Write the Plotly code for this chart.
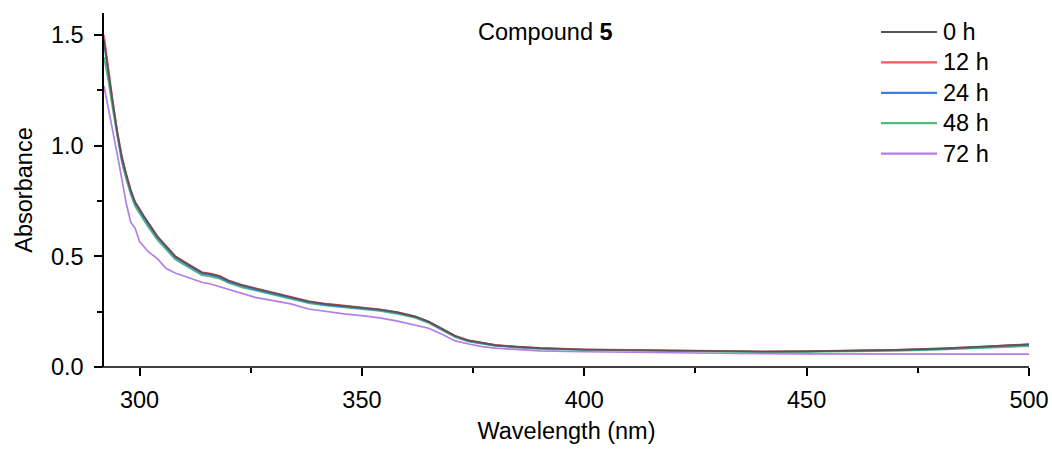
import plotly.graph_objects as go

wavelength = [292, 293, 294, 295, 296, 297, 298, 299, 300, 301, 302, 304, 306, 308, 310,
              312, 314, 316, 318, 320, 323, 326, 330, 334, 338, 342, 346, 350, 354, 358,
              362, 365, 368, 371, 374, 377, 380, 385, 390, 400, 410, 420, 430, 440, 450,
              460, 470, 480, 490, 500]

abs_0h = [1.48, 1.33, 1.19, 1.06, 0.95, 0.87, 0.80, 0.745, 0.71, 0.68, 0.65, 0.59, 0.545, 0.50, 0.475,
          0.45, 0.427, 0.42, 0.41, 0.39, 0.37, 0.355, 0.335, 0.315, 0.296, 0.284, 0.276, 0.268, 0.26, 0.247,
          0.228, 0.205, 0.172, 0.14, 0.12, 0.108, 0.099, 0.091, 0.085, 0.079, 0.077, 0.074, 0.071, 0.070, 0.071,
          0.073, 0.077, 0.083, 0.091, 0.102]
abs_12h = [1.50, 1.34, 1.20, 1.065, 0.955, 0.872, 0.802, 0.747, 0.712, 0.682, 0.652, 0.592, 0.547, 0.502, 0.477,
           0.452, 0.429, 0.422, 0.412, 0.392, 0.372, 0.357, 0.337, 0.317, 0.298, 0.286, 0.277, 0.269, 0.261, 0.248,
           0.229, 0.206, 0.173, 0.141, 0.121, 0.109, 0.100, 0.092, 0.086, 0.080, 0.078, 0.075, 0.072, 0.071, 0.072,
           0.074, 0.078, 0.084, 0.092, 0.104]
abs_24h = [1.46, 1.32, 1.18, 1.05, 0.94, 0.862, 0.793, 0.738, 0.703, 0.673, 0.643, 0.584, 0.539, 0.495, 0.470,
           0.445, 0.422, 0.415, 0.405, 0.386, 0.366, 0.351, 0.331, 0.311, 0.293, 0.281, 0.273, 0.265, 0.257, 0.244,
           0.226, 0.203, 0.170, 0.138, 0.118, 0.106, 0.097, 0.090, 0.084, 0.078, 0.076, 0.073, 0.070, 0.069, 0.070,
           0.072, 0.076, 0.081, 0.089, 0.100]
abs_48h = [1.40, 1.29, 1.16, 1.035, 0.925, 0.848, 0.780, 0.726, 0.692, 0.662, 0.632, 0.574, 0.530, 0.487, 0.462,
           0.438, 0.415, 0.408, 0.399, 0.380, 0.360, 0.346, 0.326, 0.307, 0.289, 0.277, 0.269, 0.261, 0.253, 0.240,
           0.222, 0.199, 0.166, 0.135, 0.115, 0.104, 0.095, 0.088, 0.082, 0.076, 0.074, 0.071, 0.068, 0.067, 0.068,
           0.070, 0.073, 0.078, 0.085, 0.094]
abs_72h = [1.27, 1.17, 1.07, 0.96, 0.85, 0.74, 0.655, 0.627, 0.567, 0.545, 0.52, 0.49, 0.445, 0.425, 0.41,
           0.395, 0.383, 0.375, 0.363, 0.35, 0.33, 0.315, 0.30, 0.285, 0.262, 0.25, 0.24, 0.232, 0.222, 0.207,
           0.19, 0.175, 0.148, 0.118, 0.104, 0.092, 0.085, 0.078, 0.073, 0.069, 0.066, 0.064, 0.062, 0.060, 0.059,
           0.058, 0.058, 0.058, 0.058, 0.058]

series_names = ["0 h", "12 h", "24 h", "48 h", "72 h"]
series_values = [abs_0h, abs_12h, abs_24h, abs_48h, abs_72h]
colors = ["#555555", "#f05a5a", "#3a7de0", "#55b87c", "#b27ee8"]

x_ticks = [300, 350, 400, 450, 500]
y_ticks = [0.0, 0.5, 1.0, 1.5]
y_tick_labels = ["0.0", "0.5", "1.0", "1.5"]

FONT = "Liberation Sans, Arial, sans-serif"
FS = 23.5

fig = go.Figure()
# draw in reverse so 0 h is on top
for name, vals, col in reversed(list(zip(series_names, series_values, colors))):
    fig.add_trace(go.Scatter(x=wavelength, y=vals, mode="lines", name=name,
                             line=dict(color=col, width=1.7), showlegend=False))

W, H = 1052, 450
ml, mr, mt, mb = 104, 23, 13, 83
pw = W - ml - mr
ph = H - mt - mb

fig.update_layout(
    width=W, height=H,
    margin=dict(l=ml, r=mr, t=mt, b=mb, autoexpand=False),
    plot_bgcolor="white", paper_bgcolor="white",
    font=dict(family=FONT, size=FS, color="#000000"),
    showlegend=False,
)
fig.update_xaxes(
    range=[292, 500], tickvals=x_ticks, ticktext=[str(v) for v in x_ticks],
    showgrid=False, zeroline=False, showline=False, automargin=False,
    ticks="outside", ticklen=8, tickwidth=1.5, tickcolor="#000",
    minor=dict(dtick=25, tick0=300, ticks="outside", ticklen=5, tickwidth=1.5, tickcolor="#000"),
    title=dict(text="Wavelength (nm)", standoff=10, font=dict(size=FS)),
    tickfont=dict(size=FS), ticklabelstandoff=4,
)
fig.update_yaxes(
    range=[0, 1.6], tickvals=y_ticks, ticktext=y_tick_labels,
    showgrid=False, zeroline=False, showline=True, linecolor="#000", linewidth=1.5, automargin=False,
    ticks="outside", ticklen=8, tickwidth=1.5, tickcolor="#000",
    minor=dict(dtick=0.25, tick0=0, ticks="outside", ticklen=5, tickwidth=1.5, tickcolor="#000"),
    title=dict(text="Absorbance", standoff=12, font=dict(size=FS)),
    tickfont=dict(size=FS), ticklabelstandoff=6,
)

# x axis line extended slightly left of the y axis (Origin style)
fig.add_shape(type="line", xref="paper", yref="paper", x0=-9 / pw, x1=1, y0=0, y1=0,
              line=dict(color="#000", width=1.5), layer="above")

# title annotation
fig.add_annotation(text="Compound <b>5</b>", xref="paper", yref="paper",
                   x=(545 - ml) / pw, y=(H - mb - 32) / ph, showarrow=False,
                   xanchor="center", yanchor="middle", font=dict(size=FS))

# manual legend
leg_y0 = 32
leg_dy = 30.4
for i, (name, col) in enumerate(zip(series_names, colors)):
    py = leg_y0 + i * leg_dy
    yp = (H - mb - py) / ph
    fig.add_shape(type="line", xref="paper", yref="paper",
                  x0=(881 - ml) / pw, x1=(937 - ml) / pw, y0=yp, y1=yp,
                  line=dict(color=col, width=2.2))
    fig.add_annotation(text=name, xref="paper", yref="paper", x=(941 - ml) / pw, y=yp,
                       showarrow=False, xanchor="left", yanchor="middle", font=dict(size=FS))

fig.write_html("out.html", config={"displayModeBar": False},
               post_script="document.body.style.margin='0';document.body.style.overflow='hidden';")
